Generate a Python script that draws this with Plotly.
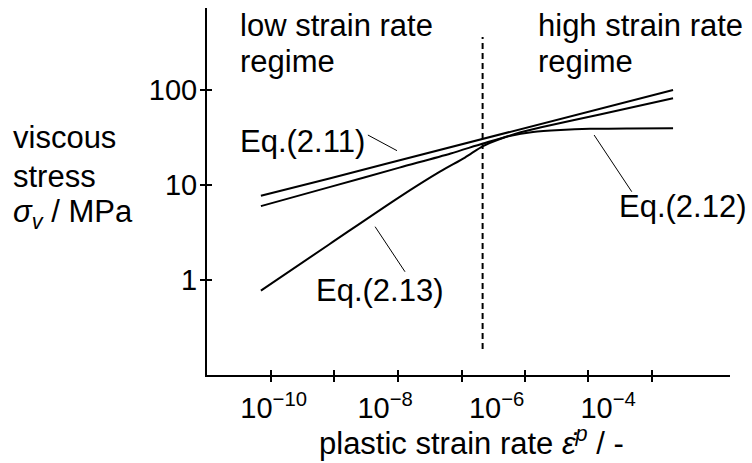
import plotly.graph_objects as go

# ---------------- data ----------------
RATE_211 = [5.9e-11, 1e-10, 1e-9, 1e-8, 1e-7, 1e-6, 1e-5, 1e-4, 1e-3, 1.46e-3]
SIGMA_211 = [7.7, 8.3, 11.7, 16.6, 23.4, 33.1, 46.9, 66.2, 93.7, 99.1]

RATE_212 = [5.9e-11, 1.0e-9, 1.8e-8, 1.5e-7, 5.7e-7, 1.7e-6, 4.5e-6, 1.4e-5, 4.7e-5, 2.5e-4, 1.46e-3]
SIGMA_212 = [6.0, 9.5, 15.2, 21.4, 27.2, 32.6, 35.9, 37.7, 38.8, 39.2, 39.3]

RATE_213 = [5.9e-11, 1.0e-9, 1.8e-8, 9.6e-8, 2.7e-7, 5.7e-7, 1.15e-6, 2.6e-6, 6.0e-6, 7.1e-5, 1.46e-3]
SIGMA_213 = [0.78, 2.39, 7.47, 13.8, 19.4, 25.6, 30.3, 35.5, 40.0, 54.8, 81.1]

RATE_BOUNDARY = [5.6e-7, 5.6e-7]
SIGMA_BOUNDARY = [0.19, 356]

# leader lines from labels to curves
LEADER_211_X = [4.9e-9, 1.63e-8]
LEADER_211_Y = [33.4, 22.9]
LEADER_213_X = [6.6e-9, 2.27e-8]
LEADER_213_Y = [3.65, 1.23]
LEADER_212_X = [5.6e-5, 2.65e-4]
LEADER_212_Y = [33.4, 8.5]

X_TICK_EXP = [-10.05, -8.91, -7.77, -6.63, -5.5, -4.36, -3.22]
X_LABEL_VALS = [1e-10, 1e-8, 1e-6, 1e-4]
X_LABEL_TEXT = ["10<sup>−10</sup>", "10<sup>−8</sup>", "10<sup>−6</sup>", "10<sup>−4</sup>"]
Y_TICK_VALS = [1, 10, 100]
Y_TICK_TEXT = ["1", "10", "100"]

# ---------------- figure ----------------
FONT = "Liberation Sans, Arial, Helvetica, sans-serif"
X_RANGE = [-11.196, -1.814]
Y_RANGE = [-0.993, 2.856]
x_ticks = [10 ** e for e in X_TICK_EXP]

fig = go.Figure()
line = dict(color="black", width=2)
fig.add_trace(go.Scatter(x=RATE_211, y=SIGMA_211, mode="lines", line=line))
fig.add_trace(go.Scatter(x=RATE_212, y=SIGMA_212, mode="lines",
                         line=dict(color="black", width=2, shape="spline", smoothing=0.8)))
fig.add_trace(go.Scatter(x=RATE_213, y=SIGMA_213, mode="lines",
                         line=dict(color="black", width=2, shape="spline", smoothing=0.8)))
fig.add_trace(go.Scatter(x=RATE_BOUNDARY, y=SIGMA_BOUNDARY, mode="lines",
                         line=dict(color="black", width=2, dash="6px,4px")))
thin = dict(color="black", width=1)
for lx, ly in [(LEADER_211_X, LEADER_211_Y), (LEADER_213_X, LEADER_213_Y), (LEADER_212_X, LEADER_212_Y)]:
    fig.add_trace(go.Scatter(x=lx, y=ly, mode="lines", line=thin))

# helper traces so overlay axes are drawn
fig.add_trace(go.Scatter(x=[1e-6], y=[1], mode="lines", xaxis="x2", yaxis="y2", line=thin))
fig.add_trace(go.Scatter(x=[1e-6], y=[1], mode="lines", xaxis="x3", yaxis="y", line=thin))

tickfont = dict(family=FONT, size=29, color="black")
fig.update_layout(
    width=752, height=463, autosize=False,
    margin=dict(l=207, r=22, t=8, b=88),
    paper_bgcolor="white", plot_bgcolor="white",
    showlegend=False, hovermode=False,
    xaxis=dict(type="log", range=X_RANGE, showline=True, linewidth=2, linecolor="black",
               ticks="outside", ticklen=5, tickwidth=2, tickcolor="black",
               tickvals=x_ticks, showticklabels=False, showgrid=False, zeroline=False),
    xaxis2=dict(type="log", range=X_RANGE, overlaying="x", anchor="y", showline=False,
                ticks="inside", ticklen=5, tickwidth=2, tickcolor="black",
                tickvals=x_ticks, showticklabels=False, showgrid=False, zeroline=False),
    xaxis3=dict(type="log", range=X_RANGE, overlaying="x", anchor="y", showline=False,
                ticks="", tickvals=X_LABEL_VALS, ticktext=X_LABEL_TEXT, tickfont=tickfont,
                ticklabelstandoff=13, showgrid=False, zeroline=False),
    yaxis=dict(type="log", range=Y_RANGE, showline=True, linewidth=2, linecolor="black",
               ticks="outside", ticklen=5, tickwidth=2, tickcolor="black",
               tickvals=Y_TICK_VALS, ticktext=Y_TICK_TEXT, tickfont=tickfont,
               ticklabelstandoff=-3, showgrid=False, zeroline=False),
    yaxis2=dict(type="log", range=Y_RANGE, overlaying="y", anchor="x", side="left", showline=False,
                ticks="inside", ticklen=5, tickwidth=2, tickcolor="black",
                tickvals=Y_TICK_VALS, showticklabels=False, showgrid=False, zeroline=False),
)

afont = dict(family=FONT, size=31, color="black")
labels = [
    ("low strain rate", 0.0595, 0.951),
    ("regime", 0.0595, 0.8529),
    ("high strain rate", 0.6285, 0.951),
    ("regime", 0.6285, 0.8529),
    ("Eq.(2.11)", 0.0595, 0.6376),
    ("Eq.(2.13)", 0.2045, 0.2308),
    ("Eq.(2.12)", 0.7830, 0.4597),
    ("viscous", -0.3750, 0.6469),
    ("stress", -0.3750, 0.5422),
    ("<i>σ</i><sub><i>v</i></sub> / MPa", -0.3750, 0.4379),
]
for text, px, py in labels:
    fig.add_annotation(text=text, x=px, y=py, xref="paper", yref="paper",
                       xanchor="left", yanchor="middle", showarrow=False, font=afont)
fig.add_annotation(text="plastic strain rate <i>ε̇</i><sup><i>p</i></sup> / -",
                   x=0.5048, y=-0.1785, xref="paper", yref="paper",
                   xanchor="center", yanchor="middle", showarrow=False, font=afont)

fig.write_html("out.html", config={"displayModeBar": False},
               post_script="document.body.style.margin='0';document.body.style.padding='0';")
